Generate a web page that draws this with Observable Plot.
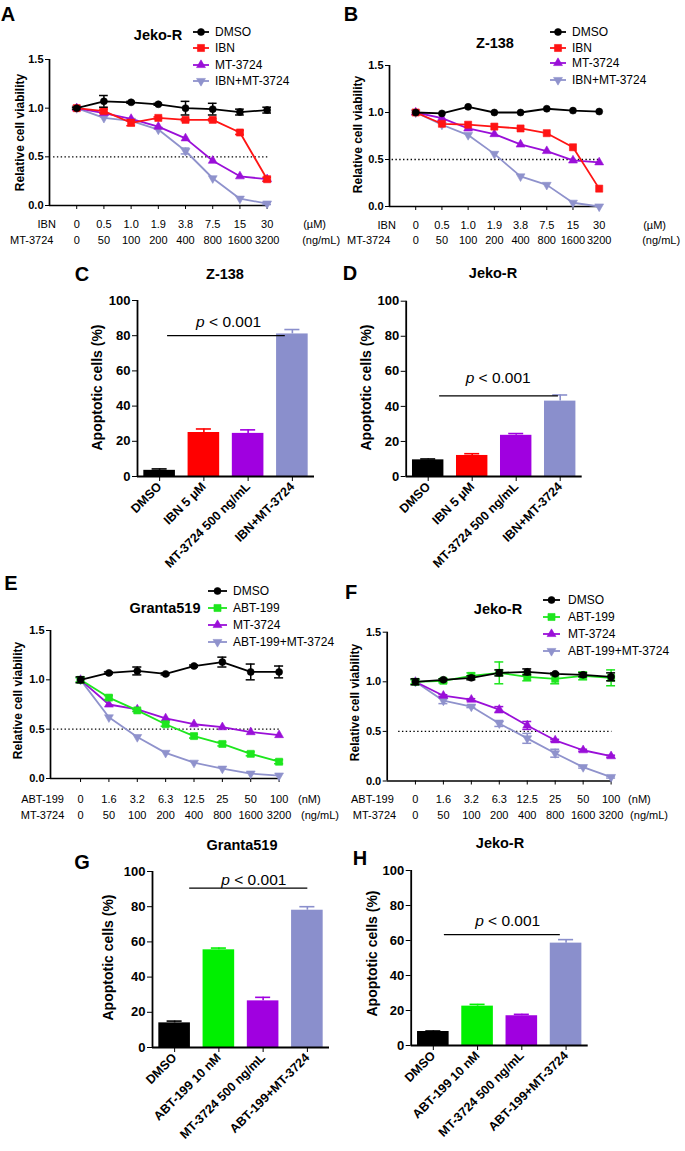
<!DOCTYPE html>
<html><head><meta charset="utf-8">
<script src="https://cdn.jsdelivr.net/npm/d3@7"></script>
<script src="https://cdn.jsdelivr.net/npm/@observablehq/plot@0.6"></script>
<style>
body{margin:0;background:#fff;}
#fig{position:relative;width:685px;height:1151px;overflow:hidden;background:#fff;font-family:"Liberation Sans",Arial,Helvetica,sans-serif;}
.panel{position:absolute;}
#overlay{position:absolute;left:0;top:0;pointer-events:none;}
</style></head><body><div id="fig"></div>
<script>
// ---------------- data ----------------
const ibnDoses = ["0","0.5","1.0","1.9","3.8","7.5","15","30"];
const mtDoses  = ["0","50","100","200","400","800","1600","3200"];
const abtDoses = ["0","1.6","3.2","6.3","12.5","25","50","100"];

// Panel A (Jeko-R, IBN)
const aDMSO    = [1.00,1.07,1.06,1.04,1.00,0.99,0.96,0.98];
const aDMSOErr = [0.01,0.06,0.01,0.01,0.07,0.06,0.03,0.03];
const aIBN     = [1.00,0.97,0.85,0.90,0.88,0.88,0.75,0.27];
const aIBNErr  = [0,0.02,0.03,0.01,0.01,0.01,0.02,0.02];
const aMT      = [1.00,0.95,0.89,0.81,0.69,0.46,0.30,0.27];
const aCombo   = [1.00,0.90,0.87,0.78,0.56,0.28,0.07,0.02];
const aComboErr= [0,0,0,0,0.03,0,0,0.01];

// Panel B (Z-138, IBN)
const bDMSO  = [1.00,0.99,1.06,1.00,1.00,1.04,1.02,1.01];
const bIBN   = [1.00,0.88,0.87,0.85,0.83,0.78,0.63,0.19];
const bMT    = [1.00,0.94,0.83,0.77,0.66,0.59,0.49,0.47];
const bCombo = [1.00,0.87,0.76,0.56,0.32,0.23,0.04,0.00];

// Panel E (Granta519, ABT-199)
const eDMSO    = [1.00,1.07,1.09,1.06,1.14,1.18,1.08,1.08];
const eDMSOErr = [0.03,0.01,0.04,0.01,0.01,0.05,0.08,0.06];
const eABT     = [1.00,0.82,0.69,0.55,0.43,0.35,0.25,0.17];
const eABTErr  = [0.02,0.02,0.01,0.02,0.02,0.02,0.02,0.02];
const eMT      = [1.00,0.75,0.70,0.61,0.55,0.52,0.47,0.44];
const eCombo   = [1.00,0.62,0.42,0.26,0.16,0.10,0.05,0.03];

// Panel F (Jeko-R, ABT-199)
const fDMSO    = [1.00,1.02,1.04,1.09,1.10,1.08,1.07,1.05];
const fDMSOErr = [0.03,0.01,0.02,0.03,0.03,0.01,0.02,0.04];
const fABT     = [1.00,1.01,1.06,1.09,1.05,1.03,1.06,1.04];
const fABTErr  = [0.02,0.02,0.03,0.11,0.04,0.05,0.04,0.08];
const fMT      = [1.00,0.86,0.82,0.72,0.56,0.41,0.31,0.25];
const fMTErr   = [0,0.01,0.01,0.03,0.04,0.01,0.01,0.01];
const fCombo   = [1.00,0.81,0.75,0.58,0.43,0.28,0.14,0.04];
const fComboErr= [0,0.03,0.01,0.03,0.05,0.04,0.01,0.01];

// Bar panels
const ibnCats = ["DMSO","IBN 5 \u03bcM","MT-3724 500 ng/mL","IBN+MT-3724"];
const abtCats = ["DMSO","ABT-199 10 nM","MT-3724 500 ng/mL","ABT-199+MT-3724"];
const cVals = [3.5,25,24.5,81],  cErr = [0.8,2,2,2.5];
const dVals = [9.5,12,23.5,43],  dErr = [0.5,1,1,3.5];
const gVals = [14,55.5,26.5,78], gErr = [1,1,2,2];
const hVals = [8,22.5,17,58.5],  hErr = [0.3,1,0.8,2];
const pText = "p < 0.001";

// ---------------- styles ----------------
const FONT = '"Liberation Sans", Arial, Helvetica, sans-serif';
const col = {DMSO:"#000000", IBN:"#ff1414", ABT:"#1ee61e", MT:"#9a0fd8", COMBO:"#8f92cc"};
const barCol = {DMSO:"#000000", IBN:"#ff0000", ABT:"#00f000", MT:"#a000e0", COMBO:"#8a8fcc"};
const sym = {
  DMSO:{symbol:"circle", r:3.5, rotate:0},
  IBN:{symbol:"square", r:4, rotate:0},
  ABT:{symbol:"square", r:4, rotate:0},
  MT:{symbol:"triangle", r:3.3, rotate:0},
  COMBO:{symbol:"triangle", r:3.3, rotate:180}
};

const fig = document.getElementById("fig");

function place(svg, left, top){
  const d = document.createElement("div");
  d.className = "panel";
  d.style.left = left + "px"; d.style.top = top + "px";
  d.appendChild(svg); fig.appendChild(d);
}

function linePanel(c){
  const marks = [
    Plot.ruleY([0.5], {x1:c.half[0], x2:c.half[1], stroke:"#000", strokeWidth:1.4, strokeDasharray:"1.4,2.4"}),
    Plot.ruleX([c.xDomain[0]], {y1:0, y2:1.5, stroke:"#000", strokeWidth:1.7}),
    Plot.ruleY([0], {x1:c.xDomain[0], x2:c.xDomain[1], stroke:"#000", strokeWidth:1.7}),
    Plot.axisY({ticks:[0,0.5,1,1.5], tickFormat:d3.format(".1f"), tickSize:4, tickPadding:2, fontWeight:"bold", fontSize:11, label:null}),
    Plot.axisX({ticks:d3.range(8), tickFormat:() => "", tickSize:4, label:null})
  ];
  const order = c.series.slice().reverse();
  for (const s of order){
    const color = col[s.key];
    marks.push(Plot.line(s.values, {x:(d,i)=>i, y:d=>d, stroke:color, strokeWidth:1.8}));
    if (s.err){
      const e = s.values.map((v,i)=>({i, v, e:s.err[i]})).filter(d=>d.e>0);
      marks.push(Plot.ruleX(e, {x:"i", y1:d=>d.v-d.e, y2:d=>d.v+d.e, stroke:color, strokeWidth:1.5}));
      marks.push(Plot.ruleY(e, {y:d=>d.v+d.e, x1:d=>d.i-0.16, x2:d=>d.i+0.16, stroke:color, strokeWidth:1.5}));
      marks.push(Plot.ruleY(e, {y:d=>d.v-d.e, x1:d=>d.i-0.16, x2:d=>d.i+0.16, stroke:color, strokeWidth:1.5}));
    }
    const m = sym[s.key];
    marks.push(Plot.dot(s.values, {x:(d,i)=>i, y:d=>d, symbol:m.symbol, r:m.r, rotate:m.rotate, fill:color, stroke:color, strokeWidth:0.6}));
  }
  const rows = [[c.row1Name, c.row1, c.unit1],[c.row2Name, c.row2, c.unit2]];
  rows.forEach(([name, labels, unit], k) => {
    marks.push(Plot.text(d3.range(labels.length), {x:d=>d, text:d=>labels[d], frameAnchor:"bottom", dy:c.rowDy[k], lineAnchor:"middle", fontSize:c.rowFont}));
    marks.push(Plot.text([name], {x:0, frameAnchor:"bottom", dx:c.nameDx[k], dy:c.rowDy[k], lineAnchor:"middle", textAnchor:"middle", fontSize:c.rowFont}));
    marks.push(Plot.text([unit], {x:7, frameAnchor:"bottom", dx:c.unitDx[k], dy:c.rowDy[k], lineAnchor:"middle", textAnchor:"start", fontSize:c.rowFont}));
  });
  const fh = c.height - c.mT - c.mB;
  marks.push(Plot.text(["Relative cell viability"], {frameAnchor:"left", rotate:-90, dx:c.ylab[0]-(c.left+c.mL), dy:c.ylab[1]-(c.top+c.mT+fh/2), fontWeight:"bold", fontSize:12, lineAnchor:"middle", textAnchor:"middle"}));
  const svg = Plot.plot({
    width:c.width, height:c.height,
    marginLeft:c.mL, marginRight:c.mR, marginTop:c.mT, marginBottom:c.mB,
    x:{domain:c.xDomain}, y:{domain:[0,1.5]},
    style:{fontFamily:FONT, fontSize:"11px", background:"transparent", overflow:"visible", color:"#000"},
    marks
  });
  place(svg, c.left, c.top);
}

function barPanel(c){
  const keys = ["DMSO", c.second, "MT", "COMBO"];
  const data = c.vals.map((v,i)=>({i, v, e:c.err[i], color:barCol[keys[i]]}));
  const fh = c.height - c.mT - c.mB;
  const marks = [
    Plot.rectY(data, {x1:d=>d.i-0.357, x2:d=>d.i+0.357, y1:0, y2:"v", fill:"color"}),
    Plot.ruleX(data, {x:"i", y1:"v", y2:d=>d.v+d.e, stroke:"color", strokeWidth:1.6}),
    Plot.ruleY(data, {y:d=>d.v+d.e, x1:d=>d.i-0.17, x2:d=>d.i+0.17, stroke:"color", strokeWidth:1.6}),
    Plot.ruleX([-0.5], {y1:0, y2:100, stroke:"#000", strokeWidth:1.8}),
    Plot.ruleY([0], {x1:-0.5, x2:3.5, stroke:"#000", strokeWidth:1.8}),
    Plot.axisY({ticks:d3.range(0,101,20), tickSize:5, tickPadding:2, fontWeight:"bold", fontSize:13, label:null}),
    Plot.axisX({ticks:[0,1,2,3], tickFormat:i=>c.cats[i], tickRotate:-45, tickSize:5, tickPadding:3, fontWeight:"bold", fontSize:12.5, label:null}),
    Plot.ruleY([c.sig.y], {x1:c.sig.from, x2:c.sig.to, stroke:"#000", strokeWidth:1.3}),
    Plot.text([pText], {x:c.sig.tx, y:c.sig.ty, fontSize:15.5, lineAnchor:"middle"}),
    Plot.text(["Apoptotic cells (%)"], {frameAnchor:"left", rotate:-90, dx:c.ylab[0]-(c.left+c.mL), dy:c.ylab[1]-(c.top+c.mT+fh/2), fontWeight:"bold", fontSize:14, lineAnchor:"middle", textAnchor:"middle"})
  ];
  const svg = Plot.plot({
    width:c.width, height:c.height,
    marginLeft:c.mL, marginRight:c.mR, marginTop:c.mT, marginBottom:c.mB,
    x:{domain:[-0.5,3.5]}, y:{domain:[0,100]},
    color:{type:"identity"},
    style:{fontFamily:FONT, fontSize:"11px", background:"transparent", overflow:"visible", color:"#000"},
    marks
  });
  d3.select(svg).selectAll("text").each(function(){
    if (this.textContent === pText){
      const t = d3.select(this); t.text(null);
      t.append("tspan").attr("font-style","italic").text("p");
      t.append("tspan").text(" < 0.001");
    }
  });
  place(svg, c.left, c.top);
}

// ---------------- panels ----------------
linePanel({left:0, top:0, width:342, height:250, mL:49, mR:74, mT:59, mB:45, xDomain:[-1,7.05], half:[-0.85,7.05],
  row1Name:"IBN", row1:ibnDoses, unit1:"(\u00b5M)", row2Name:"MT-3724", row2:mtDoses, unit2:"(ng/mL)",
  rowDy:[19,35], nameDx:[-30,-45], unitDx:[36,35], rowFont:11, ylab:[20,132],
  series:[{key:"DMSO", values:aDMSO, err:aDMSOErr},{key:"IBN", values:aIBN, err:aIBNErr},{key:"MT", values:aMT},{key:"COMBO", values:aCombo, err:aComboErr}]});

linePanel({left:342, top:0, width:343, height:250, mL:47, mR:85, mT:65, mB:44, xDomain:[-1,7.05], half:[-0.9,7.0],
  row1Name:"IBN", row1:ibnDoses, unit1:"(\u00b5M)", row2Name:"MT-3724", row2:mtDoses, unit2:"(ng/mL)",
  rowDy:[19,34], nameDx:[-29,-47], unitDx:[44,43], rowFont:11, ylab:[358,134],
  series:[{key:"DMSO", values:bDMSO},{key:"IBN", values:bIBN},{key:"MT", values:bMT},{key:"COMBO", values:bCombo}]});

linePanel({left:0, top:520, width:342, height:310, mL:50, mR:62, mT:110, mB:52, xDomain:[-1.06,7.05], half:[-0.95,7.05],
  row1Name:"ABT-199", row1:abtDoses, unit1:"(nM)", row2Name:"MT-3724", row2:mtDoses, unit2:"(ng/mL)",
  rowDy:[21,37], nameDx:[-38,-38], unitDx:[19,22], rowFont:11, ylab:[17.5,700],
  series:[{key:"DMSO", values:eDMSO, err:eDMSOErr},{key:"ABT", values:eABT, err:eABTErr},{key:"MT", values:eMT},{key:"COMBO", values:eCombo}]});

linePanel({left:342, top:520, width:343, height:310, mL:44.7, mR:73, mT:111.7, mB:49.5, xDomain:[-1.01,7.05], half:[-0.6,7.03],
  row1Name:"ABT-199", row1:abtDoses, unit1:"(nM)", row2Name:"MT-3724", row2:mtDoses, unit2:"(ng/mL)",
  rowDy:[18.5,34.5], nameDx:[-43,-41], unitDx:[17,19], rowFont:11, ylab:[354.5,702],
  series:[{key:"DMSO", values:fDMSO, err:fDMSOErr},{key:"ABT", values:fABT, err:fABTErr},{key:"MT", values:fMT, err:fMTErr},{key:"COMBO", values:fCombo, err:fComboErr}]});

barPanel({left:0, top:250, width:342, height:310, mL:137, mR:28, mT:50, mB:84, cats:ibnCats, second:"IBN", vals:cVals, err:cErr,
  sig:{from:0.18, to:2.84, y:80, tx:1.56, ty:87.7}, ylab:[97.5,387]});
barPanel({left:342, top:250, width:343, height:310, mL:63.7, mR:103.3, mT:50.7, mB:84, cats:ibnCats, second:"IBN", vals:dVals, err:dErr,
  sig:{from:0.26, to:2.96, y:46, tx:1.59, ty:55.9}, ylab:[366,387]});
barPanel({left:0, top:790, width:342, height:361, mL:152, mR:13, mT:81, mB:104, cats:abtCats, second:"ABT", vals:gVals, err:gErr,
  sig:{from:0.34, to:3.01, y:90.5, tx:1.79, ty:94.9}, ylab:[108,957]});
barPanel({left:342, top:790, width:343, height:361, mL:68.7, mR:97.3, mT:80, mB:106, cats:abtCats, second:"ABT", vals:hVals, err:hErr,
  sig:{from:0.25, to:2.87, y:63.4, tx:1.68, ty:70.9}, ylab:[372,953]});

// ---------------- overlay: letters, titles, legends ----------------
const ov = d3.create("svg").attr("id","overlay").attr("width",685).attr("height",1151)
  .attr("font-family", FONT);
const letters = [["A",8,14],["B",351,14],["C",82,274],["D",350,273],["E",11,583],["F",351,592],["G",82,862],["H",360,858]];
ov.selectAll("text.letter").data(letters).join("text").attr("class","letter")
  .attr("x",d=>d[1]).attr("y",d=>d[2]).attr("text-anchor","middle").attr("dominant-baseline","central")
  .attr("font-size",20).attr("font-weight","bold").text(d=>d[0]);
const titles = [["Jeko-R",158,35],["Z-138",495,43],["Z-138",225,274],["Jeko-R",493,273],["Granta519",165,608],["Jeko-R",498,609],["Granta519",242,845],["Jeko-R",500,843]];
ov.selectAll("text.title").data(titles).join("text").attr("class","title")
  .attr("x",d=>d[1]).attr("y",d=>d[2]).attr("text-anchor","middle").attr("dominant-baseline","central")
  .attr("font-size",14.5).attr("font-weight","bold").text(d=>d[0]);

const legends = [
  {x1:193, x2:209, tx:215, ys:[32,48,65,81], items:[["DMSO","DMSO"],["IBN","IBN"],["MT","MT-3724"],["COMBO","IBN+MT-3724"]]},
  {x1:550, x2:566, tx:572, ys:[32,48,63,80], items:[["DMSO","DMSO"],["IBN","IBN"],["MT","MT-3724"],["COMBO","IBN+MT-3724"]]},
  {x1:208, x2:227, tx:233, ys:[591,608,625,642], items:[["DMSO","DMSO"],["ABT","ABT-199"],["MT","MT-3724"],["COMBO","ABT-199+MT-3724"]]},
  {x1:543, x2:560, tx:568, ys:[600,617,634,651], items:[["DMSO","DMSO"],["ABT","ABT-199"],["MT","MT-3724"],["COMBO","ABT-199+MT-3724"]]}
];
const symType = {circle:d3.symbolCircle, square:d3.symbolSquare, triangle:d3.symbolTriangle};
for (const L of legends){
  L.items.forEach(([key,label],k)=>{
    const y = L.ys[k], c = col[key], m = sym[key];
    ov.append("line").attr("x1",L.x1).attr("x2",L.x2).attr("y1",y).attr("y2",y).attr("stroke",c).attr("stroke-width",1.8);
    ov.append("path").attr("d", d3.symbol(symType[m.symbol], Math.PI*m.r*m.r)())
      .attr("transform",`translate(${(L.x1+L.x2)/2},${y}) rotate(${m.rotate})`).attr("fill",c).attr("stroke",c).attr("stroke-width",0.6);
    ov.append("text").attr("x",L.tx).attr("y",y).attr("dominant-baseline","central").attr("font-size",12).text(label);
  });
}
fig.appendChild(ov.node());
</script></body></html>
